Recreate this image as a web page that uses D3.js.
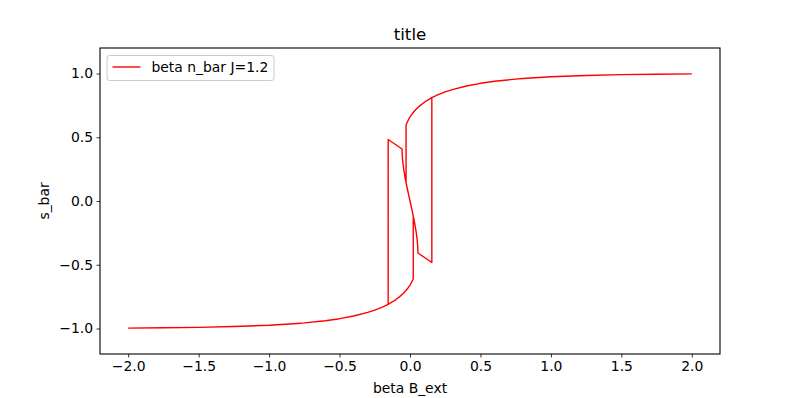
<!DOCTYPE html>
<html>
<head>
<meta charset="utf-8">
<script src="https://cdn.jsdelivr.net/npm/d3@7"></script>
<style>
  body { margin: 0; background: #fff; }
  svg text { font-family: "DejaVu Sans", sans-serif; fill: #000; }
</style>
</head>
<body>
<div id="chart"></div>
<script>
// series label + tick values
var seriesName = "beta n_bar J=1.2";
var xTicks = [-2.0, -1.5, -1.0, -0.5, 0.0, 0.5, 1.0, 1.5, 2.0];
var yTicks = [-1.0, -0.5, 0.0, 0.5, 1.0];

// beta B_ext values, null = gap in the line
var bExt = [
  -2.0, -1.75, -1.5, -1.25, -1.0, -0.8, -0.75, -0.6, -0.5, -0.4, -0.3, -0.25, -0.2, -0.155,
  -0.155, -0.0565, -0.0564, -0.0546, -0.0505, -0.0446, -0.0373, -0.028, -0.0197, -0.01, 0.0,
  0.01, 0.0197, 0.0234, 0.028, 0.0373, 0.0446, 0.0505, 0.0546, 0.0564, 0.0565,
  0.155, 0.155, 0.2, 0.25, 0.3, 0.4, 0.5, 0.6, 0.75, 0.8, 1.0, 1.25, 1.5, 1.75, 2.0,
  null,
  -0.155, -0.1234, -0.1, -0.073, -0.05, -0.0273, -0.0131, 0.0, 0.0098, 0.019, 0.0231, 0.0231,
  null,
  -0.028, -0.028, -0.019, -0.0098, 0.0, 0.0131, 0.0273, 0.05, 0.073, 0.1, 0.1234, 0.155
];

// s_bar values (same order)
var sBar = [
  -0.9967, -0.9945, -0.9908, -0.9847, -0.9742, -0.9605, -0.956, -0.9387, -0.923, -0.902, -0.8735, -0.856, -0.834, -0.81,
  0.482, 0.408, 0.40, 0.35, 0.30, 0.25, 0.20, 0.145, 0.10, 0.05, 0.0,
  -0.05, -0.10, -0.12, -0.145, -0.20, -0.25, -0.30, -0.35, -0.40, -0.408,
  -0.482, 0.81, 0.834, 0.856, 0.8735, 0.902, 0.923, 0.9387, 0.956, 0.9605, 0.9742, 0.9847, 0.9908, 0.9945, 0.9967,
  null,
  -0.81, -0.79, -0.773, -0.75, -0.727, -0.70, -0.68, -0.659, -0.64, -0.62, -0.61, -0.12,
  null,
  0.145, 0.597, 0.62, 0.64, 0.659, 0.68, 0.70, 0.727, 0.75, 0.773, 0.79, 0.81
];

var W = 800, H = 398;
var margin = {top: 48, right: 80, bottom: 44, left: 100};
var width = W - margin.left - margin.right,
    height = H - margin.top - margin.bottom;

var data = bExt.map(function(b, i) { return {b: b, s: sBar[i]}; });

var xScale = d3.scaleLinear().domain([-2.2, 2.2]).range([0, width]);
var yScale = d3.scaleLinear().domain([-1.2, 1.2]).range([height, 0]);

var svg = d3.select("#chart").append("svg")
  .attr("width", W)
  .attr("height", H);

var g = svg.append("g")
  .attr("transform", "translate(" + margin.left + "," + margin.top + ")");

var fmt = d3.format(".1f");

// axes
var xAxis = g.append("g")
  .attr("transform", "translate(0," + height + ")")
  .call(d3.axisBottom(xScale).tickValues(xTicks).tickFormat(fmt).tickSize(3.5).tickPadding(3.5));
var yAxis = g.append("g")
  .call(d3.axisLeft(yScale).tickValues(yTicks).tickFormat(fmt).tickSize(3.5).tickPadding(3.5));

[xAxis, yAxis].forEach(function(ax) {
  ax.select(".domain").remove();
  ax.selectAll(".tick line").attr("stroke", "#000").attr("stroke-width", 0.8);
  ax.selectAll(".tick text").style("font-size", "13.9px").attr("fill", "#000");
});

// the line
var line = d3.line()
  .defined(function(d) { return d.b !== null && d.s !== null; })
  .x(function(d) { return xScale(d.b); })
  .y(function(d) { return yScale(d.s); });

g.append("path")
  .attr("d", line(data))
  .attr("fill", "none")
  .attr("stroke", "red")
  .attr("stroke-width", 1.4)
  .attr("stroke-linejoin", "round");

// frame
g.append("rect")
  .attr("width", width)
  .attr("height", height)
  .attr("fill", "none")
  .attr("stroke", "#000")
  .attr("stroke-width", 1.1);

// title + axis labels
g.append("text")
  .attr("x", width / 2)
  .attr("y", -8.5)
  .attr("text-anchor", "middle")
  .style("font-size", "16.7px")
  .text("title");

g.append("text")
  .attr("x", width / 2)
  .attr("y", height + 39)
  .attr("text-anchor", "middle")
  .style("font-size", "13.9px")
  .text("beta B_ext");

g.append("text")
  .attr("transform", "translate(-51," + (height / 2) + ")rotate(-90)")
  .attr("text-anchor", "middle")
  .style("font-size", "13.9px")
  .text("s_bar");

// legend
var legend = g.append("g").attr("transform", "translate(7,7.5)");
legend.append("rect")
  .attr("width", 167)
  .attr("height", 25)
  .attr("rx", 2.5)
  .attr("fill", "#fff")
  .attr("fill-opacity", 0.8)
  .attr("stroke", "#cccccc")
  .attr("stroke-width", 1);
legend.append("line")
  .attr("x1", 5.5).attr("x2", 33.5)
  .attr("y1", 11.5).attr("y2", 11.5)
  .attr("stroke", "red")
  .attr("stroke-width", 1.4);
legend.append("text")
  .attr("x", 44.5)
  .attr("y", 16.5)
  .style("font-size", "13.9px")
  .text(seriesName);
</script>
</body>
</html>
